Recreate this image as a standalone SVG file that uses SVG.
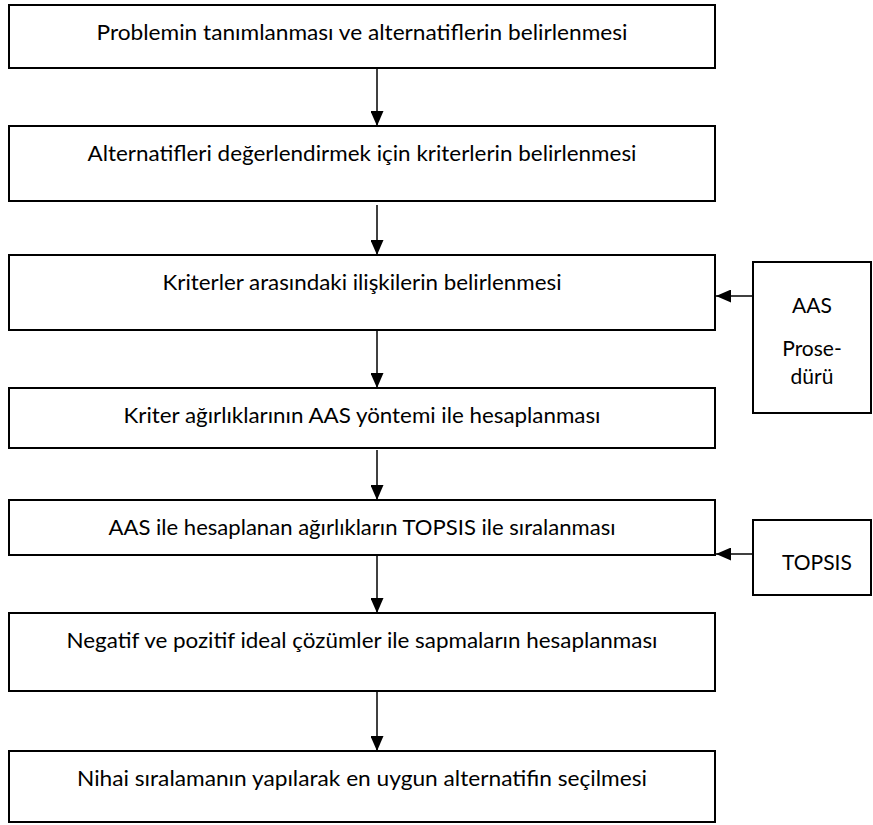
<svg xmlns="http://www.w3.org/2000/svg" width="873" height="825" viewBox="0 0 873 825">
<style>
.box{fill:#fff;stroke:#000;stroke-width:2}
.t{font-family:Lato,"Open Sans","Liberation Sans",sans-serif;font-size:21px;fill:#000;text-anchor:middle}
.c{stroke:#000;stroke-width:1.5;fill:none}
</style>
<defs>
<marker id="ah" viewBox="0 0 15 13" refX="15" refY="6.5" markerWidth="15" markerHeight="13" markerUnits="userSpaceOnUse" orient="auto">
<path d="M0,0 L15,6.5 L0,13 Z" fill="#000"/>
</marker>
</defs>
<rect width="873" height="825" fill="#fff"/>
<g id="connectors">
<line class="c" x1="377" y1="68" x2="377" y2="126" marker-end="url(#ah)"/>
<line class="c" x1="377" y1="205" x2="377" y2="255" marker-end="url(#ah)"/>
<line class="c" x1="377" y1="331" x2="377" y2="388" marker-end="url(#ah)"/>
<line class="c" x1="377" y1="450" x2="377" y2="500" marker-end="url(#ah)"/>
<line class="c" x1="377" y1="555" x2="377" y2="613" marker-end="url(#ah)"/>
<line class="c" x1="377" y1="691" x2="377" y2="751" marker-end="url(#ah)"/>
<line class="c" x1="753" y1="296" x2="716" y2="296" marker-end="url(#ah)"/>
<line class="c" x1="753" y1="554" x2="716" y2="554" marker-end="url(#ah)"/>
</g>
<g id="n1"><rect class="box" x="9" y="5" width="706" height="63"/><text class="t" x="362" y="40" textLength="531" lengthAdjust="spacingAndGlyphs">Problemin tanımlanması ve alternatiflerin belirlenmesi</text></g>
<g id="n2"><rect class="box" x="9" y="126" width="706" height="75"/><text class="t" x="362" y="161" textLength="549" lengthAdjust="spacingAndGlyphs">Alternatifleri değerlendirmek için kriterlerin belirlenmesi</text></g>
<g id="n3"><rect class="box" x="9" y="255" width="706" height="75"/><text class="t" x="362" y="290" textLength="399" lengthAdjust="spacingAndGlyphs">Kriterler arasındaki ilişkilerin belirlenmesi</text></g>
<g id="n4"><rect class="box" x="9" y="388" width="706" height="60"/><text class="t" x="362" y="423" textLength="477" lengthAdjust="spacingAndGlyphs">Kriter ağırlıklarının AAS yöntemi ile hesaplanması</text></g>
<g id="n5"><rect class="box" x="9" y="500" width="706" height="55"/><text class="t" x="362" y="535" textLength="507" lengthAdjust="spacingAndGlyphs">AAS ile hesaplanan ağırlıkların TOPSIS ile sıralanması</text></g>
<g id="n6"><rect class="box" x="9" y="613" width="706" height="78"/><text class="t" x="362" y="648" textLength="591" lengthAdjust="spacingAndGlyphs">Negatif ve pozitif ideal çözümler ile sapmaların hesaplanması</text></g>
<g id="n7"><rect class="box" x="9" y="751" width="706" height="71"/><text class="t" x="362" y="786" textLength="570" lengthAdjust="spacingAndGlyphs">Nihai sıralamanın yapılarak en uygun alternatifin seçilmesi</text></g>
<g id="aas"><rect class="box" x="753" y="262" width="118" height="151"/><text class="t" x="812" y="313">AAS</text><text class="t" x="812" y="356">Prose-</text><text class="t" x="812" y="384">dürü</text></g>
<g id="topsis"><rect class="box" x="753" y="520" width="118" height="75"/><text class="t" x="817" y="570">TOPSIS</text></g>
</svg>
